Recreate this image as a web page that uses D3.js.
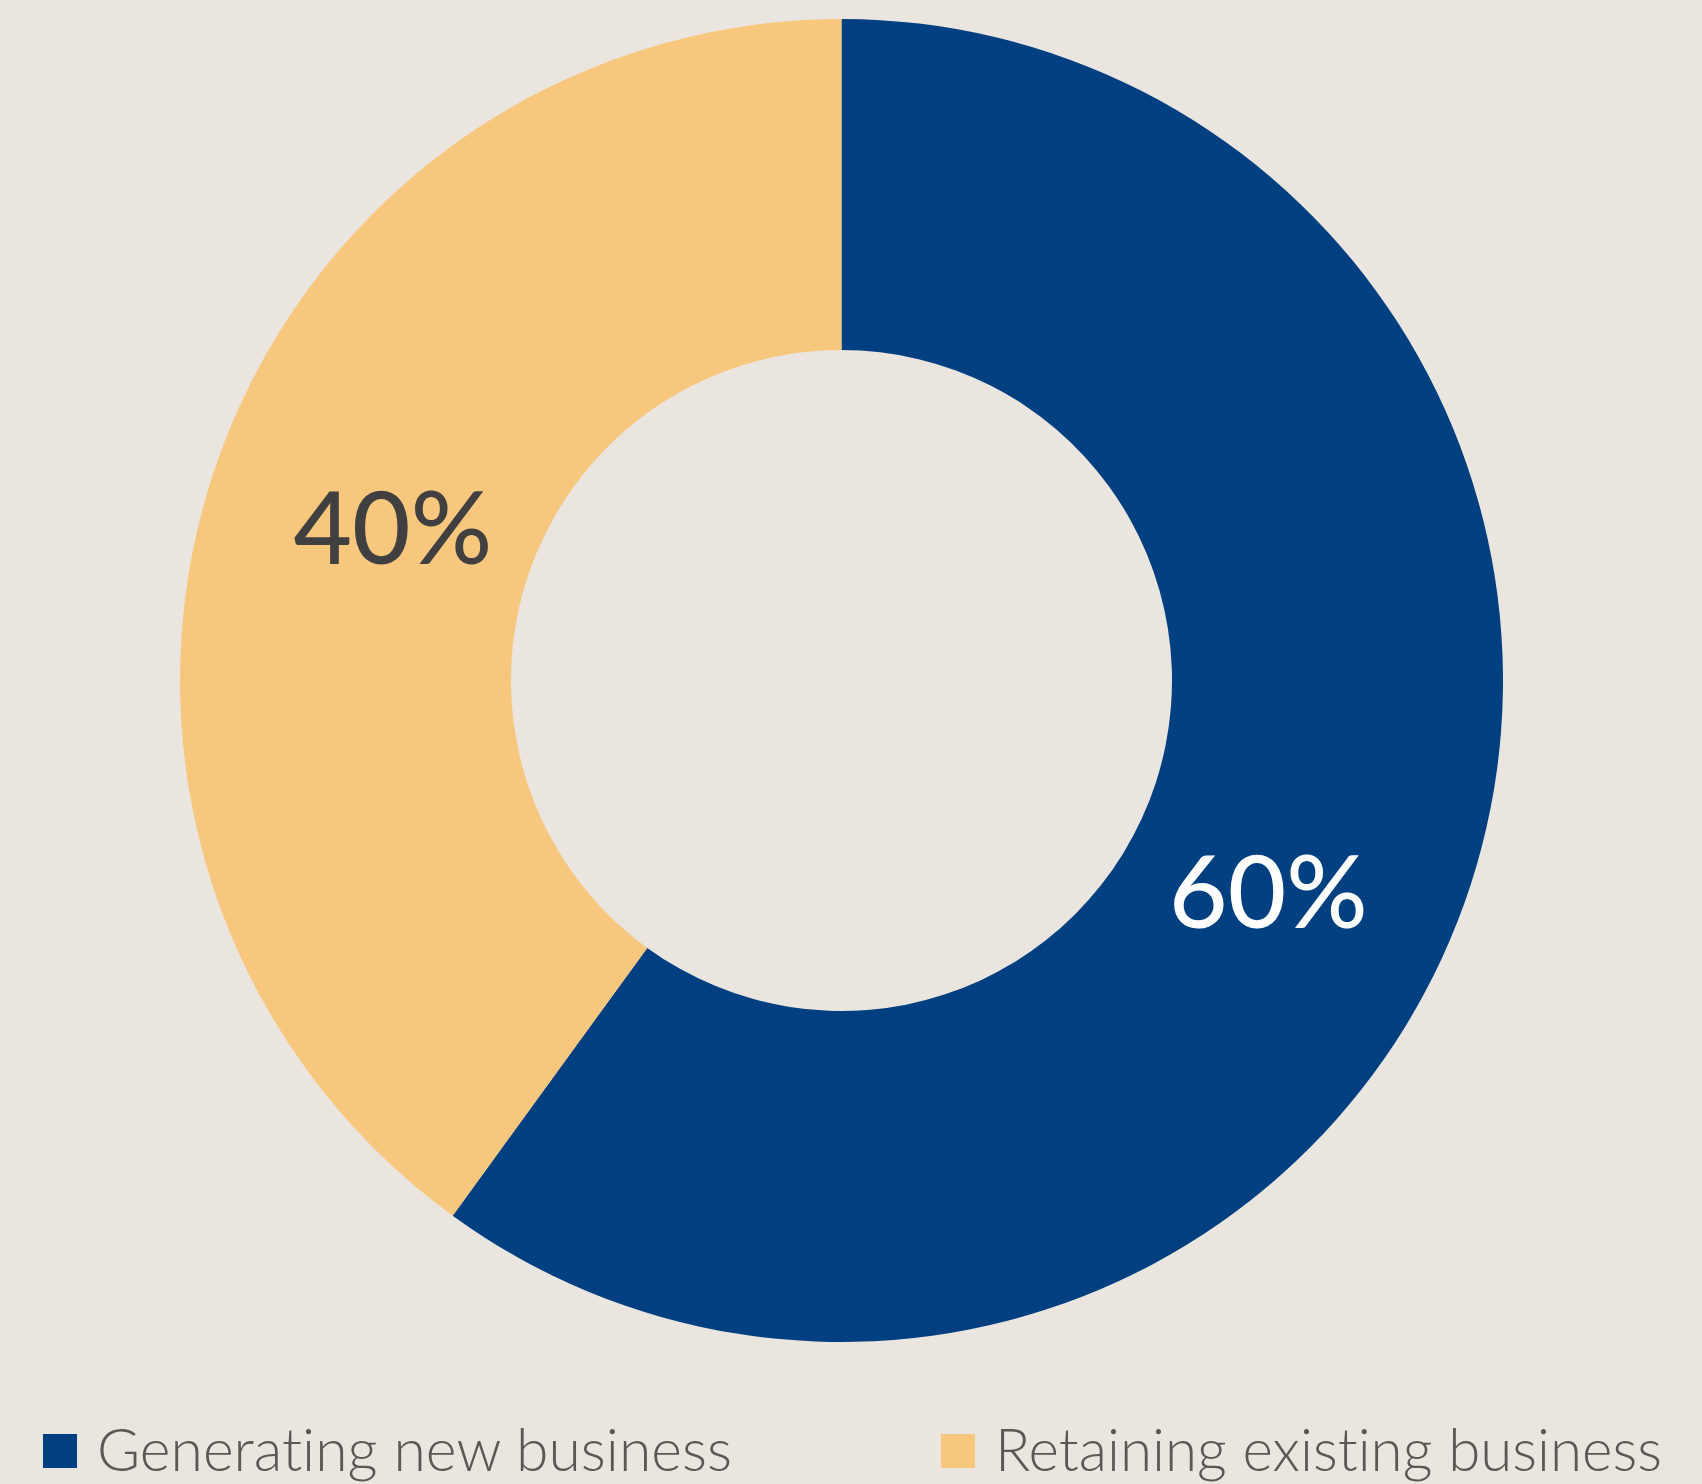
<!DOCTYPE html>
<html>
<head>
<meta charset="utf-8">
<script src="https://cdn.jsdelivr.net/npm/d3@7"></script>
<style>
  html, body { margin: 0; padding: 0; background: #EAE5DF; }
  svg { display: block; }
  text { font-variant-ligatures: none; }
</style>
</head>
<body>
<svg id="chart" width="1702" height="1484"></svg>
<script>
// Share of effort: new vs. existing business
const categories = ["Generating new business", "Retaining existing business"];
const values = [60, 40];
const valueLabels = ["60%", "40%"];
const colors = ["#004080", "#F7C77E"];
const labelColors = ["#FFFFFF", "#404040"];

const W = 1702, H = 1484;
const cx = 841.5, cy = 680.5;
const outerR = 661.5, innerR = 330.5;

const svg = d3.select("#chart");
svg.append("rect").attr("width", W).attr("height", H).attr("fill", "#EAE5DF");

const pie = d3.pie().sort(null).value(d => d)(values);
const arc = d3.arc().innerRadius(innerR).outerRadius(outerR);

const g = svg.append("g").attr("transform", `translate(${cx},${cy})`);

g.selectAll("path.slice")
  .data(pie)
  .join("path")
  .attr("class", "slice")
  .attr("d", arc)
  .attr("fill", (d, i) => colors[i]);

// Labels sit on a ring within the band; the larger slice label is rotated a little toward the bottom
const labelR = 475;
const angleShift = [0.14, 0.02];
g.selectAll("text.val")
  .data(pie)
  .join("text")
  .attr("class", "val")
  .each(function (d, i) {
    const a = (d.startAngle + d.endAngle) / 2 + angleShift[i];
    d3.select(this)
      .attr("x", labelR * Math.sin(a))
      .attr("y", -labelR * Math.cos(a));
  })
  .attr("text-anchor", "middle")
  .attr("dominant-baseline", "central")
  .attr("font-family", "Lato, 'Open Sans', sans-serif")
  .attr("font-weight", 500)
  .attr("font-size", 101)
  .attr("fill", (d, i) => labelColors[i])
  .text((d, i) => valueLabels[i]);

// Legend
const legendX = [43, 941];
const legendTextW = [635, 667];
const legend = svg.append("g");
const items = legend.selectAll("g")
  .data(categories)
  .join("g")
  .attr("transform", (d, i) => `translate(${legendX[i]},1434)`);
items.append("rect")
  .attr("width", 34).attr("height", 34)
  .attr("fill", (d, i) => colors[i]);
items.append("text")
  .attr("x", 54)
  .attr("y", 37)
  .attr("font-family", "Lato, 'Open Sans', sans-serif")
  .attr("font-weight", 300)
  .attr("font-size", 60)
  .attr("textLength", (d, i) => legendTextW[i])
  .attr("lengthAdjust", "spacingAndGlyphs")
  .attr("fill", "#5A5754")
  .text(d => d);
</script>
</body>
</html>
